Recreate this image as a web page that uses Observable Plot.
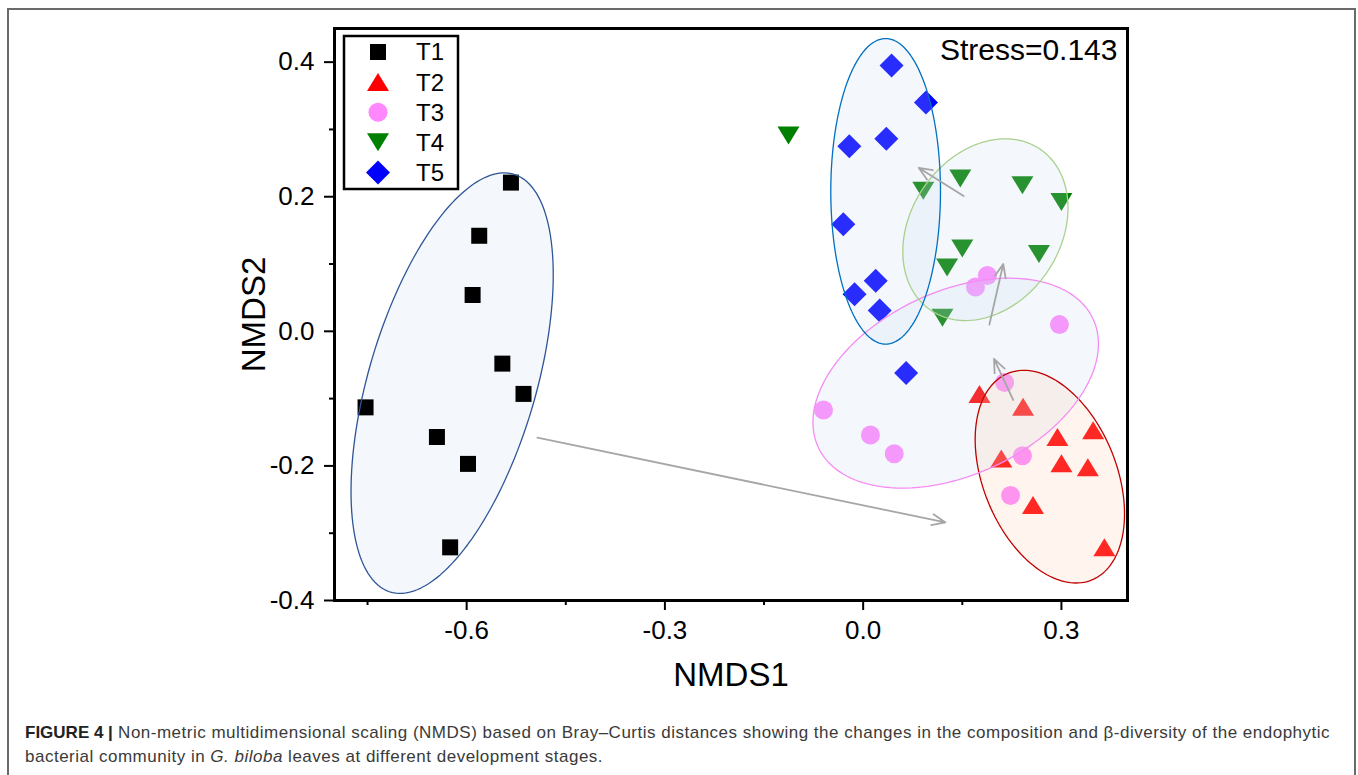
<!DOCTYPE html>
<html>
<head>
<meta charset="utf-8">
<script src="https://cdn.jsdelivr.net/npm/d3@7"></script>
<script src="https://cdn.jsdelivr.net/npm/@observablehq/plot@0.6"></script>
<style>
  body { margin: 0; background: #fff; font-family: "Liberation Sans", Arial, sans-serif; }
  #outer { position: absolute; left: 7px; top: 8px; width: 1345px; height: 820px; border: 2px solid #6a6a6a; border-bottom: none; }
  #chart { position: absolute; left: 0; top: 0; }
  #legend { position: absolute; left: 0; top: 0; pointer-events: none; }
  #caption { position: absolute; left: 25px; top: 721px; font-size: 17px; letter-spacing: 0.5px; line-height: 24px; color: #3a3a3a; white-space: nowrap; }
  #caption b { color: #222; letter-spacing: 0; }
</style>
</head>
<body>
<div id="outer"></div>
<div id="chart"></div>
<div id="caption"><b>FIGURE 4 |</b> Non-metric multidimensional scaling (NMDS) based on Bray–Curtis distances showing the changes in the composition and β-diversity of the endophytic<br>bacterial community in <i>G. biloba</i> leaves at different development stages.</div>
<script>
// ---------- data ----------
const groups = ["T1", "T2", "T3", "T4", "T5"];
const groupColors = ["#000000", "#ff0000", "#ff88ff", "#008000", "#0000ff"];

const T1_x = [-0.533, -0.581, -0.591, -0.546, -0.514, -0.753, -0.645, -0.598, -0.625];
const T1_y = [0.221, 0.142, 0.054, -0.048, -0.093, -0.113, -0.157, -0.197, -0.321];
const T2_x = [0.176, 0.242, 0.294, 0.348, 0.209, 0.300, 0.340, 0.257, 0.365];
const T2_y = [-0.093, -0.112, -0.157, -0.147, -0.189, -0.196, -0.202, -0.258, -0.321];
const T3_x = [0.188, 0.170, 0.297, -0.060, 0.011, 0.047, 0.214, 0.241, 0.223];
const T3_y = [0.083, 0.066, 0.010, -0.117, -0.154, -0.182, -0.076, -0.185, -0.244];
const T4_x = [-0.113, 0.147, 0.091, 0.241, 0.300, 0.150, 0.127, 0.266, 0.120];
const T4_y = [0.291, 0.227, 0.209, 0.217, 0.192, 0.123, 0.095, 0.115, 0.020];
const T5_x = [0.043, 0.095, -0.021, 0.035, -0.030, 0.019, -0.013, 0.025, 0.065];
const T5_y = [0.395, 0.340, 0.275, 0.286, 0.159, 0.075, 0.055, 0.031, -0.062];

// confidence ellipses (per group): centre, half-extent along x / y, correlation
const ell_cx = [-0.622, 0.2825, 0.140, 0.185, 0.034];
const ell_cy = [-0.077, -0.216, -0.077, 0.151, 0.208];
const ell_rx = [0.153, 0.113, 0.216, 0.125, 0.083];
const ell_ry = [0.3125, 0.158, 0.156, 0.135, 0.227];
const ell_r  = [0.515, -0.35, 0.374, 0.24, 0.0];

// succession arrows T1->T2->T3->T4->T5
const arrow_x1 = [-0.493, 0.227, 0.191, 0.152];
const arrow_y1 = [-0.158, -0.102, 0.010, 0.201];
const arrow_x2 = [0.1245, 0.198, 0.212, 0.084];
const arrow_y2 = [-0.284, -0.041, 0.100, 0.243];

const xMajor = [-0.6, -0.3, 0, 0.3];
const xMinor = [-0.75, -0.45, -0.15, 0.15];
const yMajor = [-0.4, -0.2, 0, 0.2, 0.4];
const yMinor = [-0.3, -0.1, 0.1, 0.3];
const stressLabel = "Stress=0.143";

// ---------- build tables ----------
const xs = [T1_x, T2_x, T3_x, T4_x, T5_x];
const ys = [T1_y, T2_y, T3_y, T4_y, T5_y];
const points = [];
groups.forEach((g, i) => xs[i].forEach((x, j) => points.push({group: g, x, y: ys[i][j]})));

const arrows = arrow_x1.map((x1, i) => ({x1, y1: arrow_y1[i], x2: arrow_x2[i], y2: arrow_y2[i]}));

function ellipseRing(i, n = 160) {
  const s = Math.sqrt(1 - ell_r[i] ** 2), out = [];
  for (let k = 0; k <= n; k++) {
    const t = 2 * Math.PI * k / n;
    out.push({x: ell_cx[i] + ell_rx[i] * Math.cos(t), y: ell_cy[i] + ell_ry[i] * (ell_r[i] * Math.cos(t) + s * Math.sin(t))});
  }
  return out;
}
function ellipseBand(i, n = 120) {
  const s = Math.sqrt(1 - ell_r[i] ** 2), out = [];
  for (let k = 0; k <= n; k++) {
    const t = Math.PI * k / n;
    const c = Math.cos(t), sn = Math.sin(t);
    out.push({x: ell_cx[i] + ell_rx[i] * c,
              y1: ell_cy[i] + ell_ry[i] * (ell_r[i] * c - s * sn),
              y2: ell_cy[i] + ell_ry[i] * (ell_r[i] * c + s * sn)});
  }
  return out;
}

// ---------- symbols (centred on bounding box) ----------
const symSquare = {draw(c) { c.moveTo(-8, -8); c.lineTo(8, -8); c.lineTo(8, 8); c.lineTo(-8, 8); c.closePath(); }};
const symTriUp = {draw(c) { c.moveTo(0, -9); c.lineTo(11, 9); c.lineTo(-11, 9); c.closePath(); }};
const symCircle = {draw(c) { c.moveTo(9.5, 0); c.arc(0, 0, 9.5, 0, 2 * Math.PI); c.closePath(); }};
const symTriDown = {draw(c) { c.moveTo(0, 9); c.lineTo(11, -9); c.lineTo(-11, -9); c.closePath(); }};
const symDiamond = {draw(c) { c.moveTo(0, -12); c.lineTo(12, 0); c.lineTo(0, 12); c.lineTo(-12, 0); c.closePath(); }};
const symbols = [symSquare, symTriUp, symCircle, symTriDown, symDiamond];

const ellStroke = ["#2f5597", "#c00000", "#f48cf4", "#a9d18e", "#0070c0"];
const ellFill = ["#c7dcf2", "#ffc8aa", "#c7dcf2", "#c7dcf2", "#c7dcf2"];

const fillMark = i => Plot.areaY(ellipseBand(i), {x: "x", y1: "y1", y2: "y2", fill: ellFill[i], fillOpacity: 0.2});
const strokeMark = i => Plot.line(ellipseRing(i), {x: "x", y: "y", stroke: ellStroke[i], strokeWidth: 1.3});

const fmt = d => d.toFixed(1);

const plot = Plot.plot({
  width: 1358,
  height: 700,
  marginLeft: 334,
  marginRight: 231,
  marginTop: 28,
  marginBottom: 100,
  x: {domain: [-0.8, 0.4]},
  y: {domain: [-0.4, 0.45]},
  color: {domain: groups, range: groupColors},
  symbol: {domain: groups, range: symbols},
  style: {fontFamily: "'Liberation Sans', Arial, sans-serif", background: "transparent", color: "#000", overflow: "visible"},
  marks: [
    fillMark(0),
    Plot.dot(points, {x: "x", y: "y", fill: "group", symbol: "group", r: 9, stroke: null}),
    fillMark(2), fillMark(1), fillMark(3), fillMark(4),
    strokeMark(0), strokeMark(1), strokeMark(2), strokeMark(3), strokeMark(4),
    Plot.arrow(arrows, {x1: "x1", y1: "y1", x2: "x2", y2: "y2", stroke: "#a6a6a6", strokeWidth: 1.8, headLength: 12, headAngle: 45}),
    Plot.axisX({ticks: xMajor, tickSize: 10, tickPadding: 10, tickFormat: fmt, fontSize: 26, strokeWidth: 2, label: null}),
    Plot.axisX({ticks: xMinor, tickSize: 5, tickFormat: () => "", strokeWidth: 2, label: null}),
    Plot.axisY({ticks: yMajor, tickSize: 10, tickPadding: 10, tickFormat: fmt, fontSize: 26, strokeWidth: 2, label: null}),
    Plot.axisY({ticks: yMinor, tickSize: 5, tickFormat: () => "", strokeWidth: 2, label: null}),
    Plot.text(["NMDS1"], {text: d => d, frameAnchor: "bottom", dy: 75, fontSize: 33, lineAnchor: "middle", textAnchor: "middle"}),
    Plot.text(["NMDS2"], {text: d => d, frameAnchor: "left", dx: -80, rotate: -90, fontSize: 33, lineAnchor: "middle", textAnchor: "middle"}),
    Plot.text([stressLabel], {text: d => d, frameAnchor: "top-right", dx: -10, dy: 22, fontSize: 30, lineAnchor: "middle", textAnchor: "end"}),
    Plot.frame({stroke: "#000", strokeWidth: 3})
  ]
});
document.getElementById("chart").appendChild(plot);

// ---------- legend (inside the plot, top-left) ----------
const leg = d3.select("body").append("svg").attr("id", "legend").attr("width", 1358).attr("height", 700);
leg.append("rect").attr("x", 344).attr("y", 36).attr("width", 114).attr("height", 153)
  .attr("fill", "#fff").attr("stroke", "#000").attr("stroke-width", 2.5);
groups.forEach((g, i) => {
  const cy = 52 + i * 30.1;
  const p = d3.path(); symbols[i].draw(p);
  leg.append("path").attr("d", p.toString()).attr("transform", `translate(378,${cy})`).attr("fill", groupColors[i]);
  leg.append("text").attr("x", 416).attr("y", cy).attr("dy", "0.35em").attr("font-size", 24)
    .attr("font-family", "'Liberation Sans', Arial, sans-serif").text(g);
});
</script>
</body>
</html>
